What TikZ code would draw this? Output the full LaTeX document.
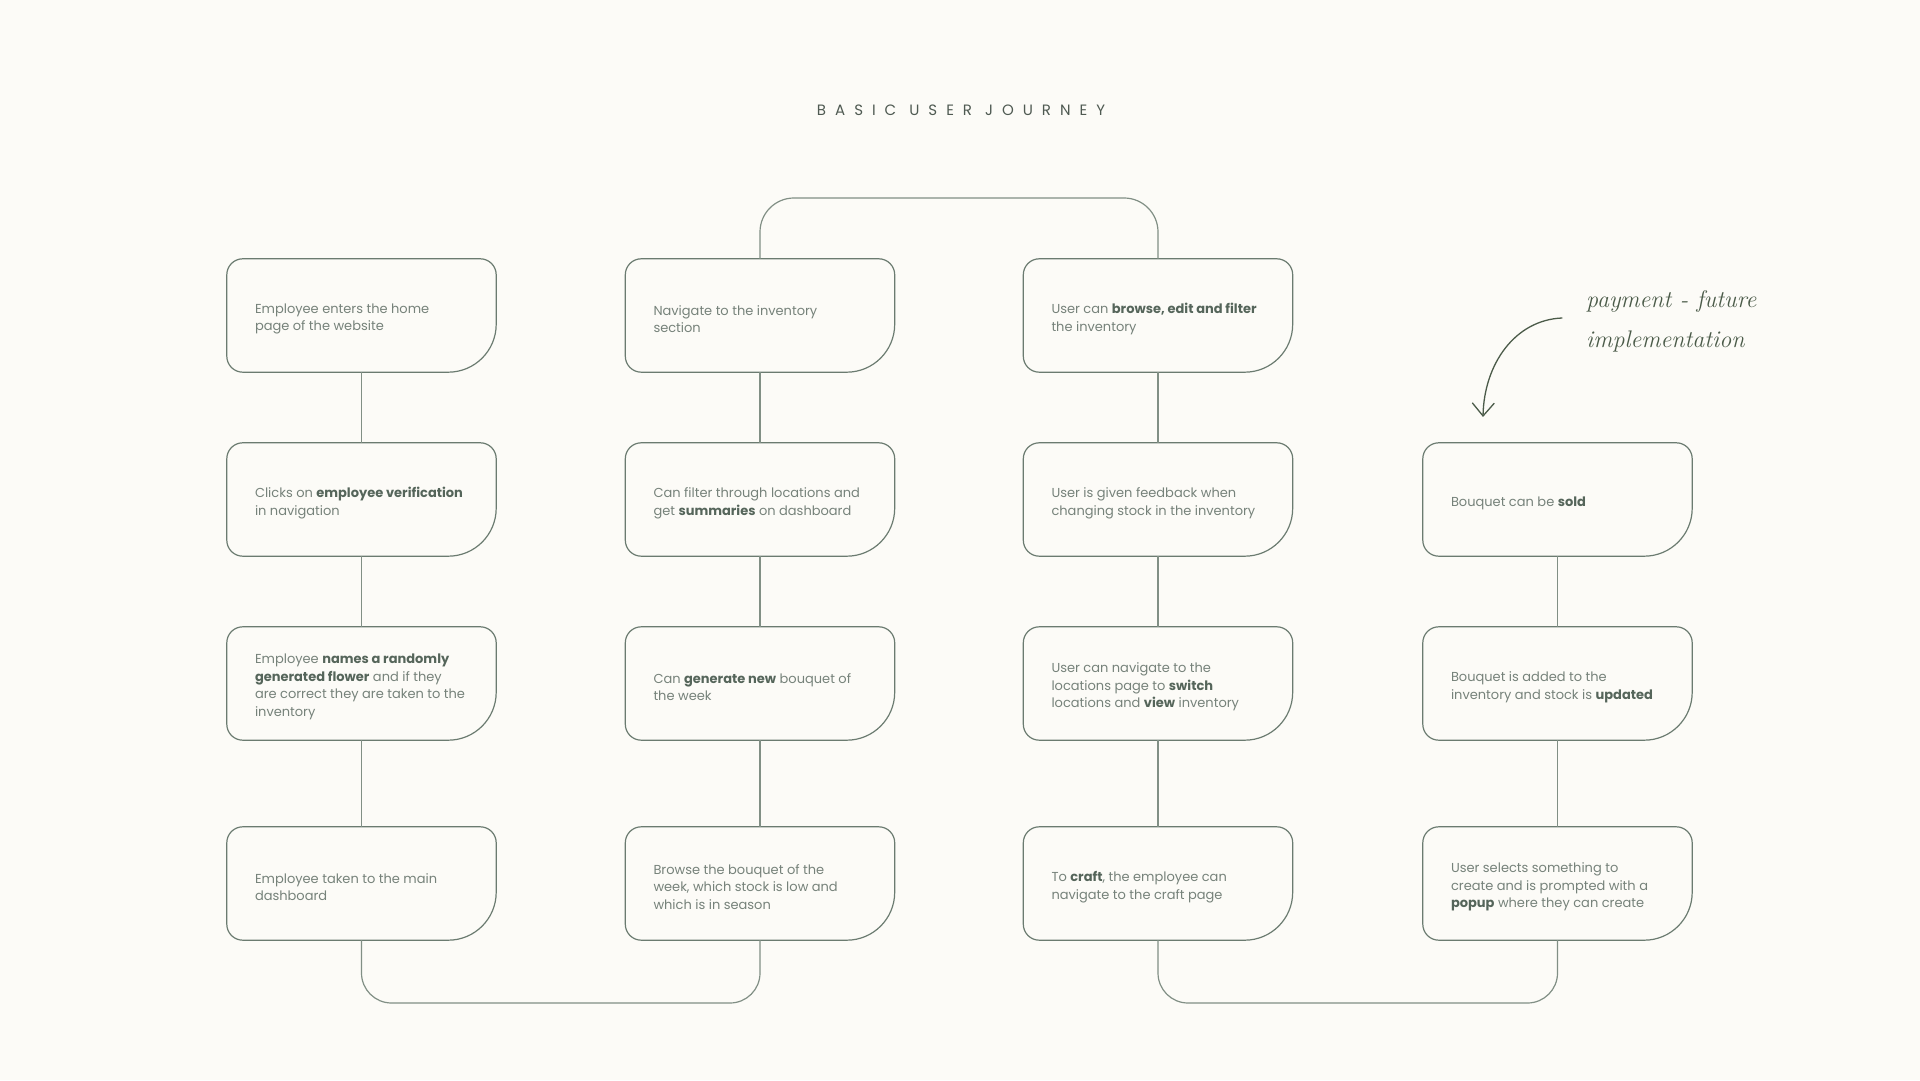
\documentclass[tikz,border=0pt]{standalone}
\usepackage{fontspec}
\newfontfamily\bodyfont{Poppins}
\newfontfamily\titlefont[LetterSpace=60]{Poppins}
\usetikzlibrary{calc,arrows.meta}
\definecolor{bg}{HTML}{FCFBF7}
\definecolor{edge}{HTML}{6B7B70}
\definecolor{txt}{HTML}{76827A}
\definecolor{txtb}{HTML}{55655A}
\definecolor{hand}{HTML}{4B5B49}
\definecolor{ttl}{HTML}{4F5A52}
\newcommand\emb[1]{{\bfseries\color{txtb}#1}}
\tikzset{
  boxnode/.style={minimum width=269pt, minimum height=113pt, inner sep=0pt},
  flowtext/.style={anchor=west, inner sep=0pt, align=left,
    font=\bodyfont\fontsize{13}{17.7}\selectfont, text=txt},
  boxline/.style={draw=edge, line width=1.2pt},
  link/.style={draw=edge!85, line width=1.2pt},
  handtext/.style={font=\itshape\fontsize{24}{24}\selectfont, text=hand, anchor=base west, inner sep=0pt},
}
\newcommand\shapebox[1]{%
  \draw[boxline] ($(#1.north west)+(0pt,-16pt)$) arc[start angle=180,end angle=90,radius=16pt]
    -- ($(#1.north east)+(-16pt,0pt)$) arc[start angle=90,end angle=0,radius=16pt]
    -- ($(#1.south east)+(0pt,48pt)$) arc[start angle=0,end angle=-90,radius=48pt]
    -- ($(#1.south west)+(16pt,0pt)$) arc[start angle=270,end angle=180,radius=16pt] -- cycle;}
% name, x, y, text
\newcommand\flow[4]{%
  \node[boxnode] (#1) at (#2,#3) {};
  \shapebox{#1}
  \node[flowtext] (#1t) at ($(#1.west)+(28pt,-3.5pt)$) {#4};}
\begin{document}
\begin{tikzpicture}[x=1pt,y=1pt]
\path[fill=bg,use as bounding box] (0,0) rectangle (1920,1080);

\node[font=\titlefont\fontsize{15}{15}\selectfont, text=ttl] (title) at (961,970) {BASIC USER JOURNEY};

% column 1
\flow{a1}{361.5}{764.5}{Employee enters the home\\page of the website}
\flow{a2}{361.5}{580.5}{Clicks on \emb{employee verification}\\in navigation}
\flow{a3}{361.5}{396.5}{Employee \emb{names a randomly}\\\emb{generated flower} and if they\\are correct they are taken to the\\inventory}
\flow{a4}{361.5}{196.5}{Employee taken to the main\\dashboard}
% column 2
\flow{b1}{760}{764.5}{Navigate to the inventory\\section}
\flow{b2}{760}{580.5}{Can filter through locations and\\get \emb{summaries} on dashboard}
\flow{b3}{760}{396.5}{Can \emb{generate new} bouquet of\\the week}
\flow{b4}{760}{196.5}{Browse the bouquet of the\\week, which stock is low and\\which is in season}
% column 3
\flow{c1}{1158}{764.5}{User can \emb{browse, edit and filter}\\the inventory}
\flow{c2}{1158}{580.5}{User is given feedback when\\changing stock in the inventory}
\flow{c3}{1158}{396.5}{User can navigate to the\\locations page to \emb{switch}\\locations and \emb{view} inventory}
\flow{c4}{1158}{196.5}{To \emb{craft}, the employee can\\navigate to the craft page}
% column 4
\flow{d1}{1557.5}{580.5}{Bouquet can be \emb{sold}}
\flow{d2}{1557.5}{396.5}{Bouquet is added to the\\inventory and stock is \emb{updated}}
\flow{d3}{1557.5}{196.5}{User selects something to\\create and is prompted with a\\\emb{popup} where they can create}

% vertical links
\draw[link] (a1.south) -- (a2.north);
\draw[link] (a2.south) -- (a3.north);
\draw[link] (a3.south) -- (a4.north);
\draw[link] (b1.south) -- (b2.north);
\draw[link] (b2.south) -- (b3.north);
\draw[link] (b3.south) -- (b4.north);
\draw[link] (c1.south) -- (c2.north);
\draw[link] (c2.south) -- (c3.north);
\draw[link] (c3.south) -- (c4.north);
\draw[link] (d1.south) -- (d2.north);
\draw[link] (d2.south) -- (d3.north);

% loops
\coordinate (topy) at (0,882);
\coordinate (boty) at (0,77);
\draw[link, rounded corners=34pt] (b1.north) -- (b1.north |- topy) -- (c1.north |- topy) -- (c1.north);
\draw[link, rounded corners=30pt] (a4.south) -- (a4.south |- boty) -- (b4.south |- boty) -- (b4.south);
\draw[link, rounded corners=30pt] (c4.south) -- (c4.south |- boty) -- (d3.south |- boty) -- (d3.south);

% annotation
\node[handtext] (h1) at (1586,772) {payment - future};
\node[handtext] (h2) at (1586,732) {implementation};
\coordinate (arrs) at (1562,762);
\coordinate (arrt) at (1483,663);
\draw[draw=hand, line width=1.3pt, line cap=round, -{Straight Barb[length=13pt,width=22pt]}]
  (arrs) .. controls (1515,760) and (1484,716) .. (arrt);
\end{tikzpicture}
\end{document}
